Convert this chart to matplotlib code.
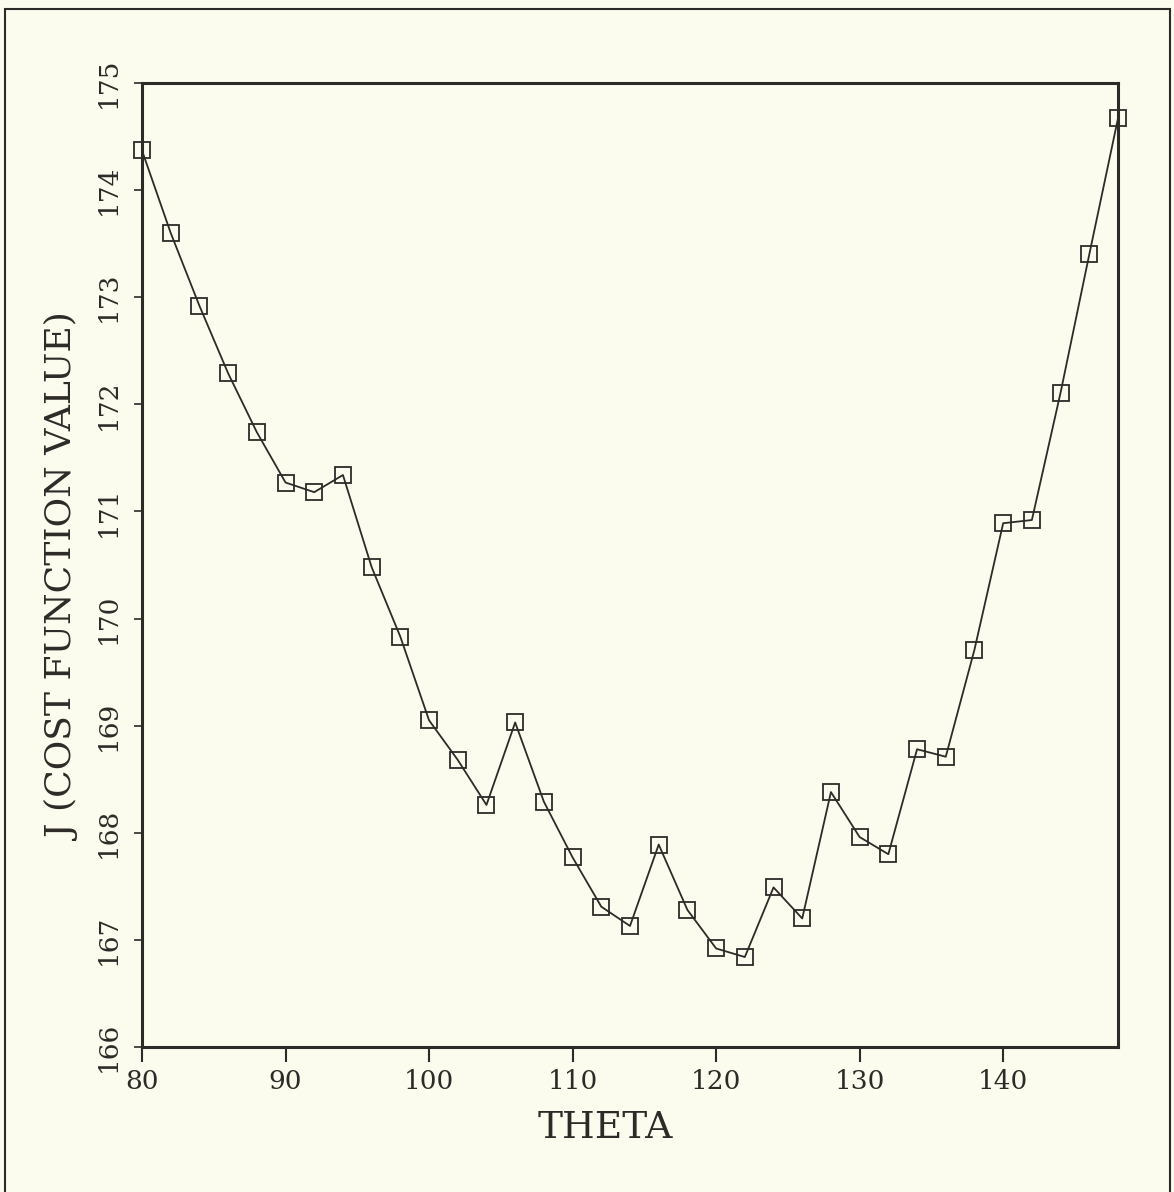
# J cost function vs theta, scanned-report style

import matplotlib.pyplot as plt
from matplotlib.patches import Rectangle

theta = [80, 82, 84, 86, 88, 90, 92, 94, 96, 98, 100, 102, 104, 106, 108,
         110, 112, 114, 116, 118, 120, 122, 124, 126, 128, 130, 132, 134,
         136, 138, 140, 142, 144, 146, 148]
cost = [174.37, 173.60, 172.92, 172.29, 171.74, 171.27, 171.18, 171.34,
        170.48, 169.83, 169.05, 168.68, 168.26, 169.03, 168.29, 167.77,
        167.31, 167.13, 167.89, 167.28, 166.92, 166.84, 167.49, 167.20,
        168.38, 167.96, 167.80, 168.78, 168.71, 169.71, 170.89, 170.92,
        172.11, 173.40, 174.67]
xticks = [80, 90, 100, 110, 120, 130, 140]
yticks = [166, 167, 168, 169, 170, 171, 172, 173, 174, 175]

bg = '#fbfbee'
ink = '#2e2a28'

plt.rcParams['font.family'] = ['DejaVu Serif']

fig = plt.figure(figsize=(11.74, 11.92), dpi=100, facecolor=bg)
ax = fig.add_axes([142 / 1174, 1 - 1047 / 1192, 976 / 1174, 964 / 1192])
ax.set_facecolor(bg)

# outer frame of the scanned page
fig.patches.append(Rectangle((5 / 1174, -0.01), 1165 / 1174, 1 - 9 / 1192 + 0.01,
                             transform=fig.transFigure, fill=False,
                             edgecolor=ink, linewidth=1.5))

ax.plot(theta, cost, color=ink, linewidth=1.3, marker='s', markersize=11.5,
        markerfacecolor='none', markeredgecolor=ink, markeredgewidth=1.3,
        clip_on=False)

ax.set_xlim(80, 148)
ax.set_ylim(166, 175)
ax.set_xticks(xticks)
ax.set_yticks(yticks)
ax.tick_params(axis='x', direction='out', length=11, width=1.5, colors=ink,
               labelsize=19, pad=5)
ax.tick_params(axis='y', direction='out', length=6, width=1.2, colors=ink,
               labelsize=19, pad=9)
for lab in ax.get_yticklabels():
    lab.set_rotation(90)
    lab.set_va('center')

for s in ax.spines.values():
    s.set_linewidth(2.2)
    s.set_color(ink)

ax.set_xlabel('THETA', fontsize=27, color=ink)
ax.set_ylabel('J (COST FUNCTION VALUE)', fontsize=26, color=ink)
ax.xaxis.set_label_coords(0.475, -0.065)
ax.yaxis.set_label_coords(-0.062, 0.487)

plt.savefig('out.png', dpi=100, facecolor=bg)
